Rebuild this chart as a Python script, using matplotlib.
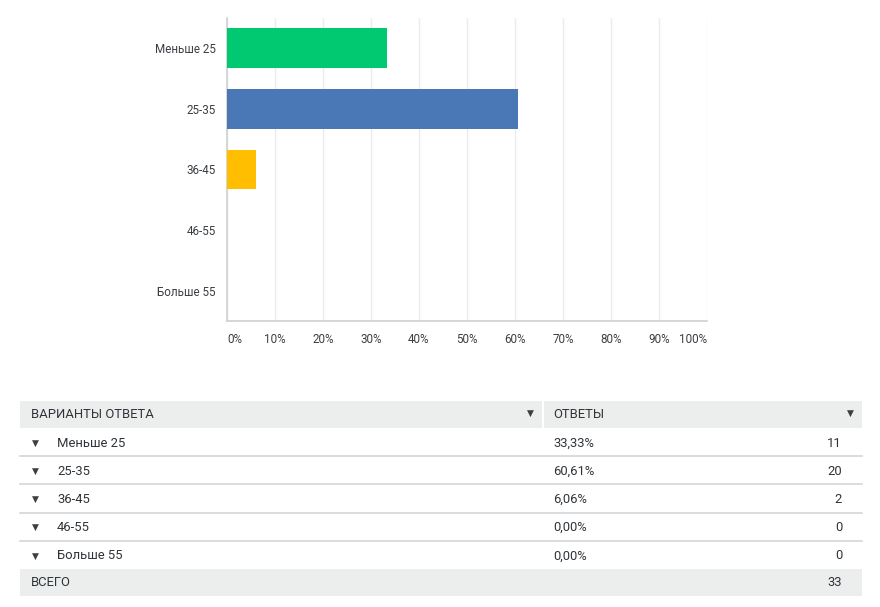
import matplotlib
matplotlib.use("Agg")
import matplotlib.pyplot as plt
from matplotlib.patches import Rectangle

plt.rcParams['font.family'] = ['Roboto', 'DejaVu Sans']

categories = ["Меньше 25", "25-35", "36-45", "46-55", "Больше 55"]
percents = [33.33, 60.61, 6.06, 0.00, 0.00]
counts = [11, 20, 2, 0, 0]
total = 33
bar_colors = ["#00c972", "#4a77b5", "#ffbf00", "#9d9d9d", "#9d9d9d"]
xticks = [0, 10, 20, 30, 40, 50, 60, 70, 80, 90, 100]
header_left = "ВАРИАНТЫ ОТВЕТА"
header_right = "ОТВЕТЫ"
total_label = "ВСЕГО"

W, H = 880, 607
fig = plt.figure(figsize=(W / 100, H / 100), dpi=100)

# ---- bar chart ----
ax = fig.add_axes([227 / W, 1 - 321 / H, 480 / W, 303 / H])
ypos = list(range(len(categories)))
ax.barh(ypos, percents, height=0.66, color=bar_colors, zorder=3)
ax.set_xlim(0, 100)
ax.set_ylim(4.5, -0.5)
ax.set_xticks(xticks)
ax.set_xticklabels([f"{t}%" for t in xticks])
for i, lab in enumerate(ax.get_xticklabels()):
    if i == 0:
        lab.set_horizontalalignment("left")
    elif i == len(xticks) - 1:
        lab.set_horizontalalignment("right")
ax.set_yticks(ypos)
ax.set_yticklabels(categories)
ax.tick_params(axis="both", length=0, labelsize=8.4, labelcolor="#3a3f44")
ax.tick_params(axis="x", pad=9)
ax.tick_params(axis="y", pad=8)
ax.grid(axis="x", color="#ececec", linewidth=1, zorder=0)
for s in ["top", "right"]:
    ax.spines[s].set_visible(False)
for s in ["left", "bottom"]:
    ax.spines[s].set_color("#d0d0d0")
    ax.spines[s].set_linewidth(1.2)

# ---- table ----
tax = fig.add_axes([0, 0, 1, 1])
tax.set_xlim(0, W)
tax.set_ylim(H, 0)
tax.axis("off")

gray = "#eceeee"
txt = "#2f3439"
tri = "#3a3f44"
fs = 9.4

# header
tax.add_patch(Rectangle((20, 401), 522, 27, color=gray, lw=0))
tax.add_patch(Rectangle((544, 401), 318, 27, color=gray, lw=0))
tax.text(31, 415, header_left, fontsize=fs, color=txt, va="center", ha="left")
tax.text(553, 415, header_right, fontsize=fs, color=txt, va="center", ha="left")
tax.text(530, 413, "▼", fontsize=6.5, color=tri, va="center", ha="center", family=['DejaVu Sans'])
tax.text(850, 413, "▼", fontsize=6.5, color=tri, va="center", ha="center", family=['DejaVu Sans'])

row_top = 428
row_h = 28.2
for i, (cat, p, c) in enumerate(zip(categories, percents, counts)):
    yc = row_top + row_h * (i + 0.5)
    tax.text(35, yc + 1, "▼", fontsize=6.5, color=tri, va="center", ha="center", family=['DejaVu Sans'])
    tax.text(57, yc + 1, cat, fontsize=fs, color=txt, va="center", ha="left")
    tax.text(553, yc + 1, f"{p:.2f}%".replace(".", ","), fontsize=fs, color=txt, va="center", ha="left")
    tax.text(842, yc + 1, str(c), fontsize=fs, color=txt, va="center", ha="right")
    if i < len(categories) - 1:
        yl = row_top + row_h * (i + 1)
        tax.plot([20, 862], [yl, yl], color="#d4d6d8", lw=1.2)

tot_top = row_top + row_h * len(categories)
tax.add_patch(Rectangle((20, tot_top), 842, 27, color=gray, lw=0))
tax.text(31, tot_top + 14, total_label, fontsize=fs, color=txt, va="center", ha="left")
tax.text(842, tot_top + 14, str(total), fontsize=fs, color=txt, va="center", ha="right")

fig.savefig("out.png", dpi=100, facecolor="white")
